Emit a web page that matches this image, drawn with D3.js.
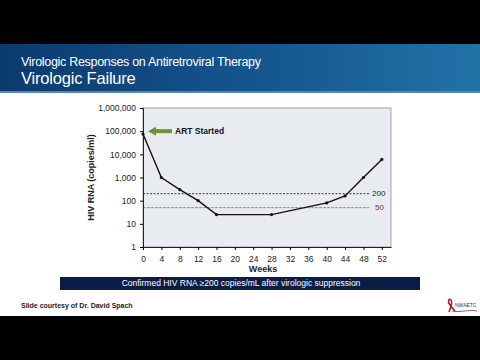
<!DOCTYPE html>
<html>
<head>
<meta charset="utf-8">
<script src="https://cdn.jsdelivr.net/npm/d3@7"></script>
<style>
  body { margin: 0; background: #000; }
  svg { display: block; font-family: "Liberation Sans", Arial, sans-serif; }
</style>
</head>
<body>
<div class="grafico"></div>
<script>
/*Datos*/
const weeks = [0, 4, 8, 12, 16, 28, 40, 44, 48, 52];
const rna = [75000, 1000, 300, 100, 25, 25, 80, 160, 1000, 6000];
const yTicks = [1, 10, 100, 1000, 10000, 100000, 1000000];
const xTicks = [0, 4, 8, 12, 16, 20, 24, 28, 32, 36, 40, 44, 48, 52];
const thresholds = [200, 50];
const thresholdLabels = ['200', '50'];

const w = 480;
const h = 360;

const svg = d3.select('.grafico')
  .append('svg')
  .attr('width', w)
  .attr('height', h)

/*Fondo de diapositiva*/
svg.append('rect').attr('x', 0).attr('y', 0).attr('width', w).attr('height', h).attr('fill', '#000')
svg.append('rect').attr('x', 0).attr('y', 44).attr('width', w).attr('height', 272).attr('fill', '#fff')

/*Encabezado*/
const defs = svg.append('defs')
const grad = defs.append('linearGradient').attr('id', 'hdr').attr('x1', '0%').attr('x2', '100%')
grad.append('stop').attr('offset', '0%').attr('stop-color', '#0c3a6e')
grad.append('stop').attr('offset', '55%').attr('stop-color', '#14578f')
grad.append('stop').attr('offset', '100%').attr('stop-color', '#2272a8')
svg.append('rect').attr('x', 0).attr('y', 44).attr('width', w).attr('height', 49).attr('fill', 'url(#hdr)')
svg.append('rect').attr('x', 0).attr('y', 91).attr('width', w).attr('height', 2).attr('fill', '#5b86a8')

svg.append('text').attr('x', 21).attr('y', 66).attr('fill', '#fff')
  .style('font-size', '12.5px').style('letter-spacing', '-0.3px')
  .text('Virologic Responses on Antiretroviral Therapy')
svg.append('text').attr('x', 21).attr('y', 84).attr('fill', '#fff')
  .style('font-size', '16.5px').style('letter-spacing', '-0.2px')
  .text('Virologic Failure')

/*Escalas*/
const pLeft = 143, pRight = 391, pTop = 108, pBottom = 247;
const xScale = d3.scaleLinear().domain([0, 54]).range([pLeft, pRight])
const yScale = d3.scaleLog().domain([1, 1000000]).range([pBottom, pTop])

/*Área del gráfico*/
svg.append('rect')
  .attr('x', pLeft).attr('y', pTop)
  .attr('width', pRight - pLeft).attr('height', pBottom - pTop)
  .attr('fill', '#e8ecf1').attr('stroke', '#8a8f96').attr('stroke-width', 0.8)

/*Líneas umbral*/
svg.selectAll('.thr')
  .data(thresholds)
  .enter()
  .append('line')
  .attr('x1', xScale(0)).attr('x2', xScale(49.3))
  .attr('y1', d => yScale(d)).attr('y2', d => yScale(d))
  .attr('stroke', (d, i) => i === 0 ? '#222' : '#9a6a78')
  .attr('stroke-width', (d, i) => i === 0 ? 0.9 : 0.8)
  .attr('stroke-dasharray', (d, i) => i === 0 ? '2,1.5' : '3,1')

svg.selectAll('.thrlab')
  .data(thresholds)
  .enter()
  .append('text')
  .attr('x', (d, i) => i === 0 ? 372 : 375)
  .attr('y', d => yScale(d))
  .attr('dy', '0.35em')
  .attr('fill', (d, i) => i === 0 ? '#222' : '#8b2746')
  .style('font-size', '8px')
  .text((d, i) => thresholdLabels[i])

/*Ejes*/
const xAxis = d3.axisBottom(xScale).tickValues(xTicks).tickSize(3).tickSizeOuter(0)
const yAxis = d3.axisLeft(yScale).tickValues(yTicks).tickSize(3).tickFormat(d3.format(','))

const gx = svg.append('g').attr('transform', `translate(0,${pBottom})`).call(xAxis)
const gy = svg.append('g').attr('transform', `translate(${pLeft},0)`).call(yAxis)
gx.select('.domain').attr('stroke', '#222')
gy.select('.domain').attr('stroke', '#222')
gx.selectAll('text').style('font-size', '8.5px').attr('fill', '#222').attr('dy', '1em')
gy.selectAll('text').style('font-size', '8.5px').attr('fill', '#222').attr('dx', '-1px')

svg.append('text')
  .attr('x', (pLeft + 383) / 2).attr('y', 272)
  .attr('text-anchor', 'middle')
  .style('font-size', '9px').style('font-weight', 'bold').attr('fill', '#222')
  .text('Weeks')

svg.append('text')
  .attr('transform', `translate(94,${(pTop + pBottom) / 2}) rotate(-90)`)
  .attr('text-anchor', 'middle')
  .style('font-size', '9px').style('font-weight', 'bold').attr('fill', '#222')
  .text('HIV RNA (copies/ml)')

/*Línea de datos*/
const line = d3.line()
  .x((d, i) => xScale(weeks[i]))
  .y(d => yScale(d))

svg.append('path')
  .datum(rna)
  .attr('d', line)
  .attr('fill', 'none')
  .attr('stroke', '#111')
  .attr('stroke-width', 1.4)

svg.selectAll('.pt')
  .data(rna)
  .enter()
  .append('circle')
  .attr('cx', (d, i) => xScale(weeks[i]))
  .attr('cy', d => yScale(d))
  .attr('r', 1.6)
  .attr('fill', '#111')

/*Flecha ART*/
const ay = yScale(100000)
svg.append('rect').attr('x', 155).attr('y', ay - 2).attr('width', 17).attr('height', 4).attr('fill', '#6f8f3e')
svg.append('path')
  .attr('d', `M148,${ay} L156,${ay - 4.5} L156,${ay + 4.5} Z`)
  .attr('fill', '#6f8f3e')
svg.append('text').attr('x', 175).attr('y', ay).attr('dy', '0.35em')
  .style('font-size', '8.5px').style('font-weight', 'bold').attr('fill', '#111')
  .text('ART Started')

/*Banner*/
svg.append('rect').attr('x', 60).attr('y', 277).attr('width', 360).attr('height', 13).attr('fill', '#0b1d45')
svg.append('text').attr('x', 241).attr('y', 283.5).attr('dy', '0.35em')
  .attr('text-anchor', 'middle')
  .style('font-size', '8.5px').attr('fill', '#fff')
  .text('Confirmed HIV RNA \u2265200 copies/mL after virologic suppression')

/*Pie*/
svg.append('text').attr('x', 21).attr('y', 308)
  .style('font-size', '7px').style('font-weight', 'bold').attr('fill', '#222')
  .text('Slide courtesy of Dr. David Spach')

svg.append('path')
  .attr('d', 'M449,312 C451,306 453,302 451,300 C449,298 447,301 450,305 L455,311')
  .attr('fill', 'none').attr('stroke', '#b01c2e').attr('stroke-width', 1.6)
svg.append('path')
  .attr('d', 'M452,311 C460,313 468,309 477,311')
  .attr('fill', 'none').attr('stroke', '#7a1a2a').attr('stroke-width', 0.7)
svg.append('text').attr('x', 455).attr('y', 307)
  .style('font-size', '5px').attr('fill', '#334')
  .text('NWAETC')
</script>
</body>
</html>
